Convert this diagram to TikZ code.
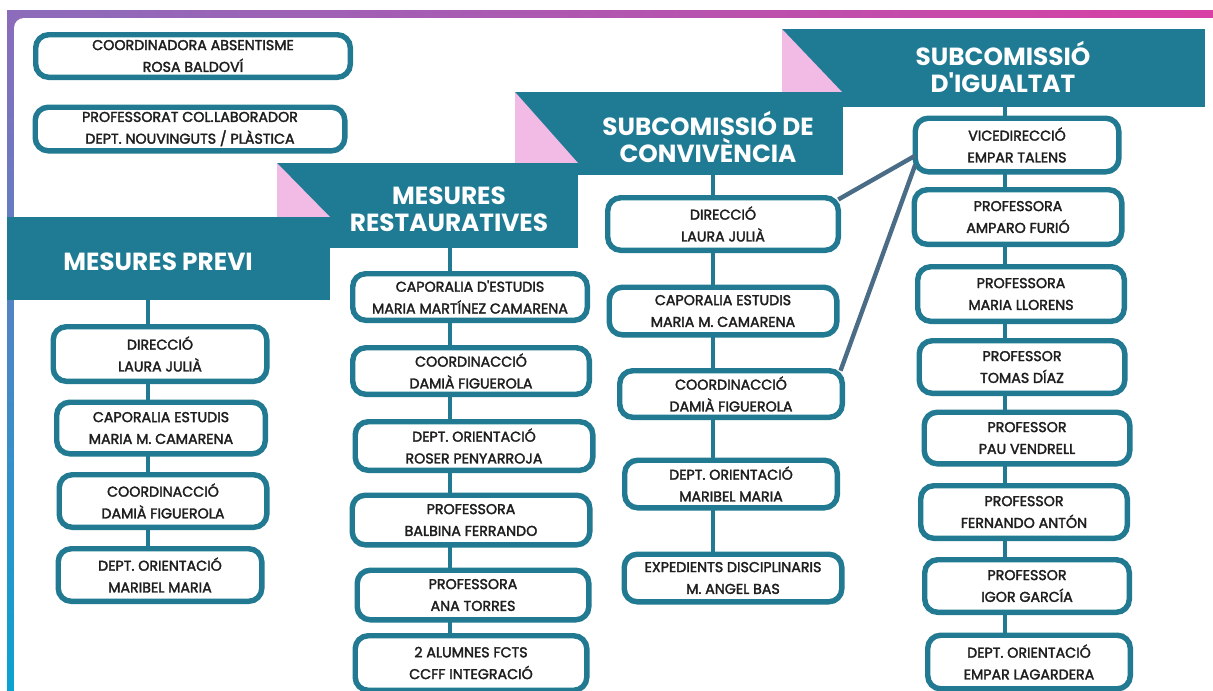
\documentclass[tikz,border=0pt]{standalone}
\usepackage{fontspec}
\setmainfont{Poppins}
\newfontfamily\boxfont[FakeBold=2.2]{Poppins}
\usepackage{xcolor}
\usetikzlibrary{calc}

\definecolor{bannerteal}{HTML}{1F7B93}
\definecolor{boxteal}{HTML}{217A91}
\definecolor{foldpink}{HTML}{F2BBE6}
\definecolor{linkslate}{HTML}{4B6C86}
\definecolor{framepurple}{HTML}{8B6CBB}
\definecolor{framemagenta}{HTML}{D840A4}
\definecolor{framecyan}{HTML}{0AA2D0}
\definecolor{inkgray}{HTML}{1E1E1E}

\begin{document}
\begin{tikzpicture}[x=0.02cm,y=-0.02cm,
    box/.style 2 args={draw=boxteal, line width=3.1pt, fill=white,
      rounded corners=0.26cm, inner sep=0pt, outer sep=0pt, align=center,
      minimum width=#1*0.02cm-3.1pt, minimum height=#2*0.02cm-3.1pt,
      text=inkgray, font=\boxfont\fontsize{8.1}{12.4}\selectfont},
    banner/.style 2 args={fill=bannerteal, inner sep=0pt, outer sep=0pt,
      minimum width=#1*0.02cm, minimum height=#2*0.02cm},
    head/.style={text=white, align=center,
      font=\bfseries\fontsize{14.1}{15.2}\selectfont},
    link/.style={draw=boxteal, line width=1.9pt},
    cross/.style={draw=linkslate, line width=2.5pt}]
\useasboundingbox (0,0) rectangle (1213,690);
\clip (0,0) rectangle (1213,690);

% frame
\shade[top color=framepurple, bottom color=framecyan] (7,10) rectangle (30,690);
\shade[left color=framepurple, right color=framemagenta] (7,10) rectangle (1213,30);
\fill[white, rounded corners=0.2cm] (14,18) rectangle (1300,760);

% banners
\node[banner={423}{78}] (b4) at (993.5,68) {};
\fill[foldpink] (b4.north west) -- (782,92) -- (842,92) -- cycle;
\node[banner={328}{83}] (b3) at (679,133.5) {};
\fill[foldpink] (b3.north west) -- (515,163) -- (578,163) -- cycle;
\node[banner={301}{85}] (b2) at (427.5,205.5) {};
\fill[foldpink] (b2.north west) -- (277,217) -- (330,217) -- cycle;
\node[banner={323}{83}] (b1) at (168.5,258.5) {};

\node[head] (h1) at (158,262) {MESURES PREVI};
\node[head] (h2) at (449,209) {MESURES\\RESTAURATIVES};
\node[head] (h3) at (708,137) {SUBCOMISSIÓ DE\\CONVIVÈNCIA};
\node[head] (h4) at (1003,67) {SUBCOMISSIÓ\\D\textquotesingle IGUALTAT};

% column lines
\coordinate (k1) at (148,300);
\coordinate (k2) at (450,248);
\coordinate (k3) at (713,175);
\coordinate (k4) at (1005,107);

% top
\node[box={320}{48}] (a1) at (193,56) {COORDINADORA ABSENTISME\\ROSA BALDOVÍ};
\node[box={315}{49}] (a2) at (190,129) {PROFESSORAT COL.\kern0.3pt LABORADOR\\DEPT. NOUVINGUTS / PLÀSTICA};

% mesures previ
\draw[link] (k1) -- (148,575);
\node[box={219}{60}] (p1) at (160,354) {DIRECCIÓ\\LAURA JULIÀ};
\node[box={214}{57}] (p2) at (161,428) {CAPORALIA ESTUDIS\\MARIA M. CAMARENA};
\node[box={213}{58}] (p3) at (163,501) {COORDINACCIÓ\\DAMIÀ FIGUEROLA};
\node[box={209}{58}] (p4) at (160,575) {DEPT. ORIENTACIÓ\\MARIBEL MARIA};

% mesures restauratives
\draw[link] (k2) -- (450,662);
\node[box={240}{52}] (r1) at (470,297) {CAPORALIA D\textquotesingle ESTUDIS\\MARIA MARTÍNEZ CAMARENA};
\node[box={242}{52}] (r2) at (471,371) {COORDINACCIÓ\\DAMIÀ FIGUEROLA};
\node[box={243}{54}] (r3) at (474,446) {DEPT. ORIENTACIÓ\\ROSER PENYARROJA};
\node[box={243}{55}] (r4) at (471,520) {PROFESSORA\\BALBINA FERRANDO};
\node[box={237}{55}] (r5) at (473,595) {PROFESSORA\\ANA TORRES};
\node[box={237}{60}] (r6) at (471,663) {2 ALUMNES FCTS\\CCFF INTEGRACIÓ};

% convivencia
\draw[link] (k3) -- (713,577);
\node[box={236}{58}] (c1) at (723,224) {DIRECCIÓ\\LAURA JULIÀ};
\node[box={233}{53}] (c2) at (723,311) {CAPORALIA ESTUDIS\\MARIA M. CAMARENA};
\node[box={228}{52}] (c3) at (731,394) {COORDINACCIÓ\\DAMIÀ FIGUEROLA};
\node[box={218}{53}] (c4) at (731,484) {DEPT. ORIENTACIÓ\\MARIBEL MARIA};
\node[box={223}{53}] (c5) at (733,578) {EXPEDIENTS DISCIPLINARIS\\M. ANGEL BAS};

% igualtat
\draw[link] (k4) -- (1005,662);
\node[box={209}{59}] (i1) at (1017,145) {VICEDIRECCIÓ\\EMPAR TALENS};
\node[box={213}{60}] (i2) at (1018,217) {PROFESSORA\\AMPARO FURIÓ};
\node[box={212}{60}] (i3) at (1021,294) {PROFESSORA\\MARIA LLORENS};
\node[box={211}{58}] (i4) at (1022,367) {PROFESSOR\\TOMAS DÍAZ};
\node[box={211}{57}] (i5) at (1027,438) {PROFESSOR\\PAU VENDRELL};
\node[box={212}{58}] (i6) at (1024,512) {PROFESSOR\\FERNANDO ANTÓN};
\node[box={210}{58}] (i7) at (1027,586) {PROFESSOR\\IGOR GARCÍA};
\node[box={208}{59}] (i8) at (1029,662) {DEPT. ORIENTACIÓ\\EMPAR LAGARDERA};

\draw[cross] (c1.12) -- (i1.186);
\draw[cross] (c3.12) -- (i1.191);
\end{tikzpicture}
\end{document}
